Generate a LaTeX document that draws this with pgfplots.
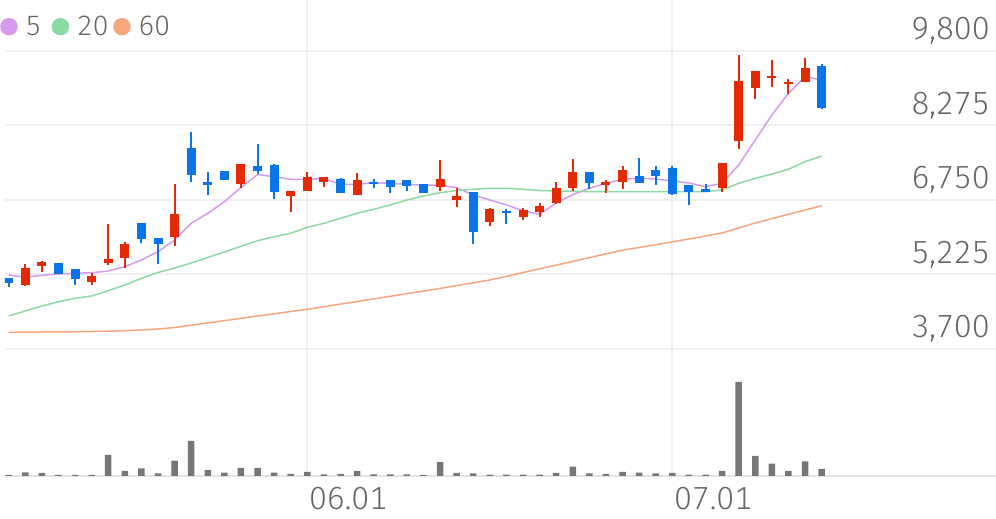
\documentclass[border=0pt]{standalone}
\usepackage{pgfplots}
\pgfplotsset{compat=1.18}
\usepackage{pgfplotstable}
\usepackage{fontspec}
\IfFontExistsTF{Fira Sans Light}{\setmainfont{Fira Sans Light}[Numbers={Lining,Monospaced}]}{\setmainfont{Noto Sans}}
\definecolor{upc}{HTML}{E42A05}
\definecolor{dnc}{HTML}{0A74E8}
\definecolor{mafive}{HTML}{D49AEE}
\definecolor{matwenty}{HTML}{8BD9A3}
\definecolor{masixty}{HTML}{F7A57D}
\definecolor{gridc}{HTML}{EFEFEF}
\definecolor{basec}{HTML}{E4E4E4}
\definecolor{volc}{HTML}{777777}
\definecolor{labc}{HTML}{666666}

% i open high low close
\pgfplotstableread{
i o h l c
1 5020 5450 4990 5360
2 5400 5500 5280 5490
5 5080 5260 5000 5200
6 5460 6250 5420 5550
7 5560 5900 5350 5840
10 5990 7070 5810 6460
14 7080 7490 6990 7490
17 6840 6940 6500 6940
18 6940 7330 6940 7220
19 7110 7220 7020 7220
21 6850 7300 6850 7160
26 7020 7560 6940 7170
27 6740 6990 6600 6840
29 6290 6580 6220 6560
31 6410 6590 6340 6550
32 6510 6680 6410 6630
33 6680 7120 6660 6990
34 7000 7580 6940 7330
36 7060 7160 6900 7120
37 7120 7450 6970 7360
43 6990 7500 6920 7500
44 7960 9720 7790 9190
45 9050 9400 8810 9400
46 9250 9620 9060 9290
47 9120 9220 8910 9160
48 9160 9650 9160 9450
}\uptab

\pgfplotstableread{
i o h l c
0 5150 5150 4960 5050
3 5470 5470 5240 5240
4 5330 5330 5010 5130
8 6270 6270 5860 5950
9 5980 5980 5450 5850
11 7820 8140 7120 7260
12 7120 7330 6850 7060
13 7350 7350 7150 7150
15 7450 7890 7280 7340
16 7470 7490 6770 6920
20 7170 7190 6900 6900
22 7120 7170 6990 7070
23 7150 7150 6890 7020
24 7150 7150 6930 7040
25 7070 7070 6900 6900
28 6920 6920 5850 6100
30 6530 6560 6260 6480
35 7330 7330 6970 7100
38 7240 7600 7100 7100
39 7360 7450 7060 7240
40 7410 7450 6850 6870
41 7060 7060 6650 6920
42 6970 7070 6920 6920
49 9500 9530 8610 8640
}\dntab

\pgfplotstableread{
i ma5 ma20 ma60
0 5215 4376 4042
1 5168 4478 4044
2 5209 4580 4048
3 5235 4668 4050
4 5250 4738 4054
5 5262 4785 4058
6 5297 4893 4064
7 5385 5010 4075
8 5522 5147 4089
9 5692 5266 4109
10 5931 5358 4140
11 6273 5460 4187
12 6478 5573 4234
13 6715 5686 4281
14 7006 5802 4328
15 7272 5917 4376
16 7227 5999 4421
17 7174 6068 4468
18 7174 6191 4513
19 7190 6273 4566
20 7067 6375 4619
21 7071 6478 4672
22 7104 6560 4726
23 7092 6648 4779
24 7071 6750 4832
25 7057 6832 4885
26 7051 6899 4940
27 7002 6944 4998
28 6852 6969 5055
29 6750 6990 5112
30 6648 6990 5188
31 6531 6969 5264
32 6457 6944 5342
33 6690 6934 5417
34 6860 6928 5493
35 6990 6920 5571
36 7092 6920 5647
37 7174 6920 5722
38 7194 6920 5778
39 7180 6920 5835
40 7139 6920 5892
41 7098 6920 5952
42 7022 6920 6013
43 7092 6955 6075
44 7466 7092 6177
45 7978 7194 6279
46 8490 7282 6369
47 8934 7378 6457
48 9274 7534 6545
49 9206 7651 6633
}\matab

\pgfplotstableread{
i v
0 1
1 3.7
2 3
3 1
4 1
5 1
6 21
7 5
8 7.7
9 2.7
10 15.3
11 35
12 6
13 3.3
14 8
15 8
16 3.3
17 2
18 4
19 1.7
20 2
21 5
22 1.7
23 1.7
24 1.7
25 1
26 14
27 3
28 2.7
29 1.3
30 1.3
31 1.3
32 1.3
33 3
34 9.3
35 2.7
36 2
37 4
38 3.3
39 2.7
40 3
41 1.3
42 1.3
43 5
44 94
45 20
46 12.3
47 5
48 14.7
49 7
}\voltab

\begin{document}
\begin{tikzpicture}[x=1pt,y=1pt]
\useasboundingbox (0,0) rectangle (996,519);
\begin{axis}[
  at={(5pt,170pt)}, anchor=south west,
  scale only axis, width=991pt, height=349pt,
  xmin=-0.223, xmax=59.51, ymin=3700, ymax=10844,
  axis line style={draw=none},
  major tick length=0pt,
  xtick={18,40}, xticklabels={},
  ytick={3700,5225,6750,8275,9800},
  yticklabels={{3,700},{5,225},{6,750},{8,275},{9,800}},
  yticklabel pos=right,
  yticklabel style={anchor=base east, inner sep=0pt, xshift=-6pt, yshift=11pt,
    font=\fontsize{32}{36}\selectfont, text=labc},
  xmajorgrids, ymajorgrids,
  grid style={line width=2pt, draw=gridc},
  legend image code/.code={\fill[#1] (0pt,0pt) circle (8pt);},
  legend style={at={(axis description cs:0,1)}, anchor=north west,
    xshift=-5pt, yshift=-14pt, draw=none, fill=none, inner sep=0pt,
    font=\fontsize{28}{30}\selectfont, text=labc,
    /tikz/every odd column/.append style={column sep=6pt},
    /tikz/every even column/.append style={column sep=0pt}},
  legend columns=-1,
]
\addplot[color=mafive, line width=1.5pt] table[x=i, y=ma5] {\matab};
\addlegendentry{\makebox[24pt][l]{5}}
\addplot[color=matwenty, line width=1.5pt] table[x=i, y=ma20] {\matab};
\addlegendentry{\makebox[34pt][l]{20}}
\addplot[color=masixty, line width=1.5pt] table[x=i, y=ma60] {\matab};
\addlegendentry{60}
\addplot[forget plot, draw=upc, line width=2pt, -, quiver={u=0, v=\thisrow{h}-\thisrow{l}}] table[x=i, y=l] {\uptab};
\addplot[forget plot, draw=upc, line width=9pt, -, quiver={u=0, v=\thisrow{c}-\thisrow{o}}] table[x=i, y=o] {\uptab};
\addplot[forget plot, draw=dnc, line width=2pt, -, quiver={u=0, v=\thisrow{h}-\thisrow{l}}] table[x=i, y=l] {\dntab};
\addplot[forget plot, draw=dnc, line width=9pt, -, quiver={u=0, v=\thisrow{c}-\thisrow{o}}] table[x=i, y=o] {\dntab};
\end{axis}
\begin{axis}[
  at={(5pt,43pt)}, anchor=south west,
  scale only axis, width=991pt, height=127pt,
  xmin=-0.223, xmax=59.51, ymin=0, ymax=127,
  axis y line=none, axis x line=bottom,
  x axis line style={-, draw=basec, line width=2pt},
  major tick length=0pt,
  xtick={18,40}, xticklabels={06.01,07.01},
  ytick=\empty,
  xmajorgrids, grid style={line width=2pt, draw=gridc},
  xticklabel style={anchor=north west, inner sep=0pt, xshift=1.5pt, yshift=-11pt,
    font=\fontsize{32}{36}\selectfont, text=labc},
]
\addplot[ybar, bar width=6.5pt, fill=volc, draw=none] table[x=i, y=v] {\voltab};
\end{axis}
\end{tikzpicture}
\end{document}
